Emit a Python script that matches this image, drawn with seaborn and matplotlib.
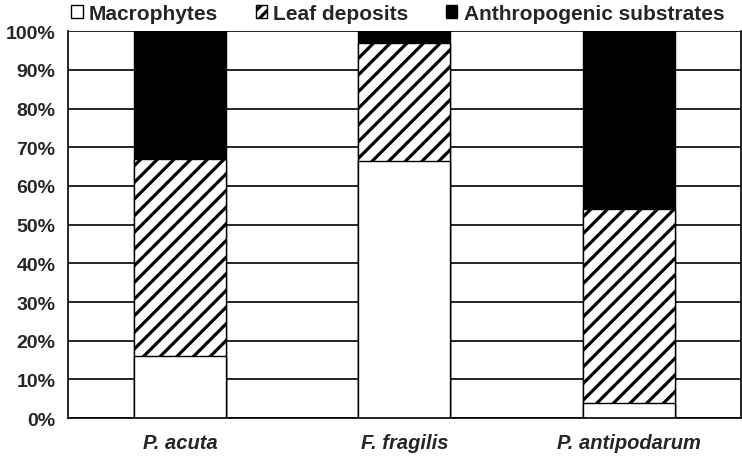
import numpy as np
import pandas as pd
import seaborn as sns
import matplotlib
matplotlib.use("Agg")
from matplotlib import pyplot as plt
from matplotlib.patches import Patch

species = ["P. acuta", "F. fragilis", "P. antipodarum"]
macrophytes = [16, 66.5, 4]      # %
leaf_deposits = [51, 30.5, 50]   # %
anthropogenic = [33, 3, 46]      # %
yticks = list(range(0, 101, 10))

df = pd.DataFrame({"species": species, "macro": macrophytes,
                   "leaf": leaf_deposits, "anthro": anthropogenic})
df["leaf_top"] = df["macro"] + df["leaf"]
df["total"] = df["leaf_top"] + df["anthro"]

sns.set_style("white")
plt.rcParams["font.family"] = ["Liberation Sans", "DejaVu Sans"]
plt.rcParams["hatch.linewidth"] = 2.3
plt.rcParams["hatch.color"] = "black"

fig = plt.figure(figsize=(7.42, 4.60), dpi=100)
ax = fig.add_axes([0.0916, 0.089, 0.907, 0.841])

w = 0.41
# stacked by overlaying cumulative totals, top segment first
sns.barplot(data=df, x="species", y="total", color="black", saturation=1,
            width=w, edgecolor="black", linewidth=1, ax=ax)
sns.barplot(data=df, x="species", y="leaf_top", color="white", saturation=1,
            width=w, edgecolor="black", linewidth=1, hatch="//", ax=ax)
sns.barplot(data=df, x="species", y="macro", color="white", saturation=1,
            width=w, edgecolor="black", linewidth=1, ax=ax)

ax.set_xlim(-0.5, 2.5)
ax.set_ylim(0, 100)
ax.set_yticks(yticks)
ax.set_yticklabels([f"{t}%" for t in yticks], fontsize=14, fontweight="bold")
ax.set_xticks(range(3))
ax.set_xticklabels(species, fontsize=14.5, fontweight="bold", fontstyle="italic")
ax.set_xticks([-0.5, 0.5, 1.5, 2.5], minor=True)
ax.tick_params(axis="x", which="major", length=0, pad=11)
ax.tick_params(axis="x", which="minor", length=6, width=1.2, color="black", direction="out")
ax.tick_params(axis="y", length=6, width=1.2, color="black", direction="out", pad=3)
ax.set_xlabel("")
ax.set_ylabel("")

ax.set_axisbelow(True)
ax.yaxis.grid(True, color="black", linewidth=1.2)
ax.xaxis.grid(False)
for s in ["left", "bottom", "right"]:
    ax.spines[s].set_color("black")
    ax.spines[s].set_linewidth(1.2)
ax.spines["top"].set_visible(False)

handles = [Patch(facecolor="white", edgecolor="black", label="Macrophytes"),
           Patch(facecolor="white", edgecolor="black", hatch="///", label="Leaf deposits"),
           Patch(facecolor="black", edgecolor="black", label="Anthropogenic substrates")]
fig.legend(handles=handles, loc="upper center", bbox_to_anchor=(0.536, 1.03), ncol=3,
           frameon=False, prop={"size": 15, "weight": "bold"},
           handlelength=0.55, handleheight=0.6, handletextpad=0.3, columnspacing=1.8)

fig.savefig("out.png", dpi=100)
